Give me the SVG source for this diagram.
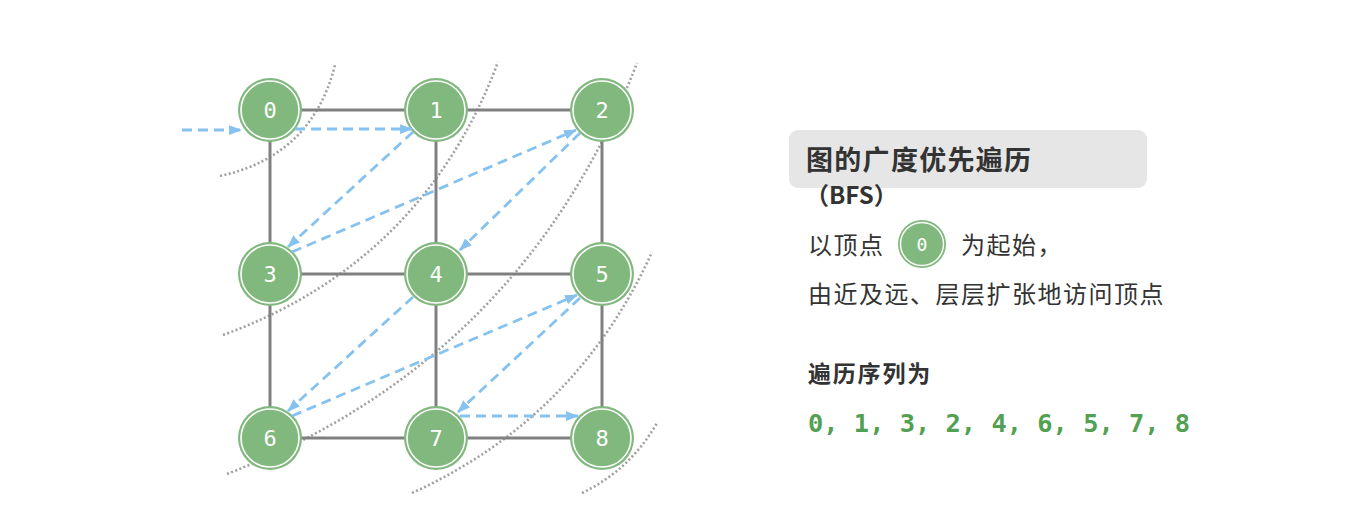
<svg xmlns="http://www.w3.org/2000/svg" width="1362" height="518" viewBox="0 0 1362 518">
  <style>
    .layer { fill: none; stroke: #a0a0a0; stroke-width: 2.6; stroke-dasharray: 2 2.4; }
    .edge { stroke: #808080; stroke-width: 3; fill: none; }
    .node-fill { fill: #80b87d; }
    .node-ring { fill: none; stroke: #ffffff; stroke-width: 1.6; }
    .node-label { font-family: "DejaVu Sans Mono", "Liberation Mono", monospace; font-size: 22px; fill: #ffffff; text-anchor: middle; }
    .trav { fill: none; stroke: #85c2ef; stroke-width: 2.8; stroke-dasharray: 10 6; marker-end: url(#arrow); }
    .title { font-family: "Noto Sans CJK SC", "Noto Sans", sans-serif; font-weight: bold; fill: #333333; }
    .body { font-family: "Noto Sans CJK SC", "Noto Sans", sans-serif; font-size: 24px; letter-spacing: 1.5px; fill: #333333; }
    .seq { font-family: "DejaVu Sans Mono", "Liberation Mono", monospace; font-weight: bold; font-size: 25.4px; fill: #52a052; }
  </style>
  <defs>
    <marker id="arrow" viewBox="0 0 12 10" refX="11" refY="5" markerWidth="13" markerHeight="11" markerUnits="userSpaceOnUse" orient="auto">
      <path d="M0,0.5 L12,5 L0,9.5 z" fill="#85c2ef"/>
    </marker>
  </defs>
  <rect width="1362" height="518" fill="#ffffff"/>

  <g id="layers">
    <path class="layer" d="M220,176 Q312,156 335,65"/>
    <path class="layer" d="M223,335 Q423,262 498,62"/>
    <path class="layer" d="M227,474 Q523,359 637,63"/>
    <path class="layer" d="M412,493 Q577,418 652,252"/>
    <path class="layer" d="M582,493 Q630,470 657,423"/>
  </g>

  <g id="edges">
    <line class="edge" x1="270" y1="110" x2="602" y2="110"/>
    <line class="edge" x1="270" y1="274" x2="602" y2="274"/>
    <line class="edge" x1="270" y1="438" x2="602" y2="438"/>
    <line class="edge" x1="270" y1="110" x2="270" y2="438"/>
    <line class="edge" x1="436" y1="110" x2="436" y2="438"/>
    <line class="edge" x1="602" y1="110" x2="602" y2="438"/>
  </g>

  <g id="node0"><circle class="node-fill" cx="270" cy="110" r="32"/><circle class="node-ring" cx="270" cy="110" r="29"/><text class="node-label" x="270" y="118">0</text></g>
  <g id="node1"><circle class="node-fill" cx="436" cy="110" r="32"/><circle class="node-ring" cx="436" cy="110" r="29"/><text class="node-label" x="436" y="118">1</text></g>
  <g id="node2"><circle class="node-fill" cx="602" cy="110" r="32"/><circle class="node-ring" cx="602" cy="110" r="29"/><text class="node-label" x="602" y="118">2</text></g>
  <g id="node3"><circle class="node-fill" cx="270" cy="274" r="32"/><circle class="node-ring" cx="270" cy="274" r="29"/><text class="node-label" x="270" y="282">3</text></g>
  <g id="node4"><circle class="node-fill" cx="436" cy="274" r="32"/><circle class="node-ring" cx="436" cy="274" r="29"/><text class="node-label" x="436" y="282">4</text></g>
  <g id="node5"><circle class="node-fill" cx="602" cy="274" r="32"/><circle class="node-ring" cx="602" cy="274" r="29"/><text class="node-label" x="602" y="282">5</text></g>
  <g id="node6"><circle class="node-fill" cx="270" cy="438" r="32"/><circle class="node-ring" cx="270" cy="438" r="29"/><text class="node-label" x="270" y="446">6</text></g>
  <g id="node7"><circle class="node-fill" cx="436" cy="438" r="32"/><circle class="node-ring" cx="436" cy="438" r="29"/><text class="node-label" x="436" y="446">7</text></g>
  <g id="node8"><circle class="node-fill" cx="602" cy="438" r="32"/><circle class="node-ring" cx="602" cy="438" r="29"/><text class="node-label" x="602" y="446">8</text></g>

  <g id="traversal">
    <line class="trav" x1="182" y1="130" x2="241" y2="130"/>
    <line class="trav" x1="295" y1="129" x2="412" y2="129"/>
    <line class="trav" x1="413" y1="132" x2="288" y2="247"/>
    <line class="trav" x1="292" y1="252" x2="576" y2="130"/>
    <line class="trav" x1="580" y1="133" x2="460" y2="250"/>
    <line class="trav" x1="413" y1="297" x2="288" y2="411"/>
    <line class="trav" x1="292" y1="416" x2="577" y2="295"/>
    <line class="trav" x1="580" y1="298" x2="458" y2="412"/>
    <line class="trav" x1="460" y1="416" x2="578" y2="416"/>
  </g>

  <g id="panel">
    <rect x="789" y="130" width="358" height="58" rx="9" fill="#e6e6e6"/>
    <text class="title" x="806" y="170" font-size="27" letter-spacing="1.3">图的广度优先遍历</text>
    <text class="title" x="805" y="204" font-size="24">（BFS）</text>
    <text class="body" x="808" y="254">以顶点</text>
    <g id="legend-node0">
      <circle cx="922" cy="244" r="24" fill="#80b87d"/>
      <circle cx="922" cy="244" r="21.5" fill="none" stroke="#ffffff" stroke-width="1.4"/>
      <text x="922" y="251" font-family="DejaVu Sans Mono, Liberation Mono, monospace" font-size="18" fill="#ffffff" text-anchor="middle">0</text>
    </g>
    <text class="body" x="961" y="254">为起始，</text>
    <text class="body" x="808" y="303">由近及远、层层扩张地访问顶点</text>
    <text class="title" x="808" y="382" font-size="23" letter-spacing="1.8">遍历序列为</text>
    <text class="seq" x="808" y="432">0, 1, 3, 2, 4, 6, 5, 7, 8</text>
  </g>
</svg>
